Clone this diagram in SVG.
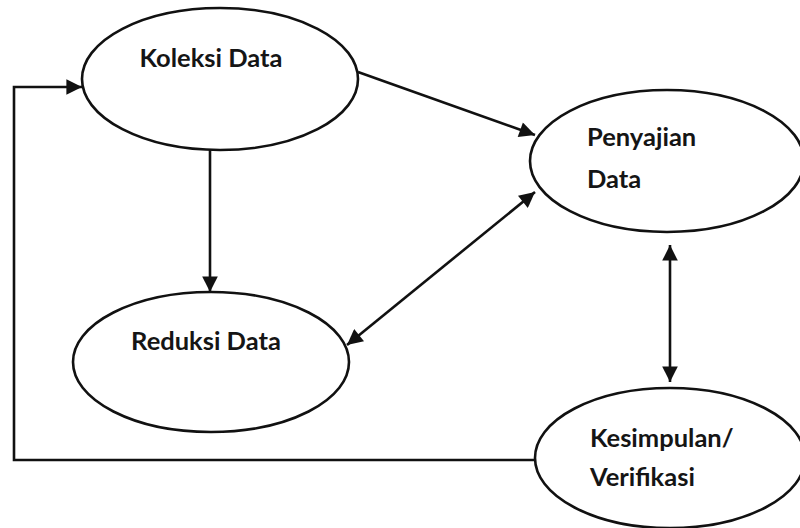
<svg xmlns="http://www.w3.org/2000/svg" width="800" height="528" viewBox="0 0 800 528">
  <style>
    .node ellipse { fill: #ffffff; stroke: #111111; stroke-width: 2.6; }
    .node text { font-family: Lato, "Liberation Sans", sans-serif; font-size: 25.5px; font-weight: 700; fill: #151515; }
    .edge { fill: none; stroke: #111111; stroke-width: 2.6; }
  </style>
  <defs>
    <marker id="arrow" viewBox="0 0 10 10" refX="10" refY="5" markerWidth="6.5" markerHeight="6" markerUnits="strokeWidth" orient="auto-start-reverse">
      <path d="M0,0 L10,5 L0,10 Z" fill="#111111"/>
    </marker>
  </defs>
  <rect width="800" height="528" fill="#ffffff"/>

  <g id="koleksi-data" class="node">
    <ellipse cx="220" cy="79" rx="138" ry="71"/>
    <text x="211" y="67" text-anchor="middle">Koleksi Data</text>
  </g>

  <g id="penyajian-data" class="node">
    <ellipse cx="667" cy="161" rx="137" ry="71"/>
    <text x="587" y="146">Penyajian</text>
    <text x="587" y="188">Data</text>
  </g>

  <g id="reduksi-data" class="node">
    <ellipse cx="211" cy="362" rx="138" ry="70"/>
    <text x="206" y="350" text-anchor="middle">Reduksi Data</text>
  </g>

  <g id="kesimpulan-verifikasi" class="node">
    <ellipse cx="670" cy="458" rx="135" ry="70"/>
    <text x="590" y="447">Kesimpulan/</text>
    <text x="590" y="486">Verifikasi</text>
  </g>

  <g id="connectors">
    <line class="edge" x1="358" y1="72" x2="535" y2="135" marker-end="url(#arrow)"/>
    <line class="edge" x1="210" y1="150" x2="210" y2="292" marker-end="url(#arrow)"/>
    <line class="edge" x1="347" y1="345" x2="535" y2="192" marker-start="url(#arrow)" marker-end="url(#arrow)"/>
    <line class="edge" x1="670" y1="245" x2="670" y2="382" marker-start="url(#arrow)" marker-end="url(#arrow)"/>
    <polyline class="edge" points="535,460 14,460 14,87 82,87" marker-end="url(#arrow)"/>
  </g>
</svg>
